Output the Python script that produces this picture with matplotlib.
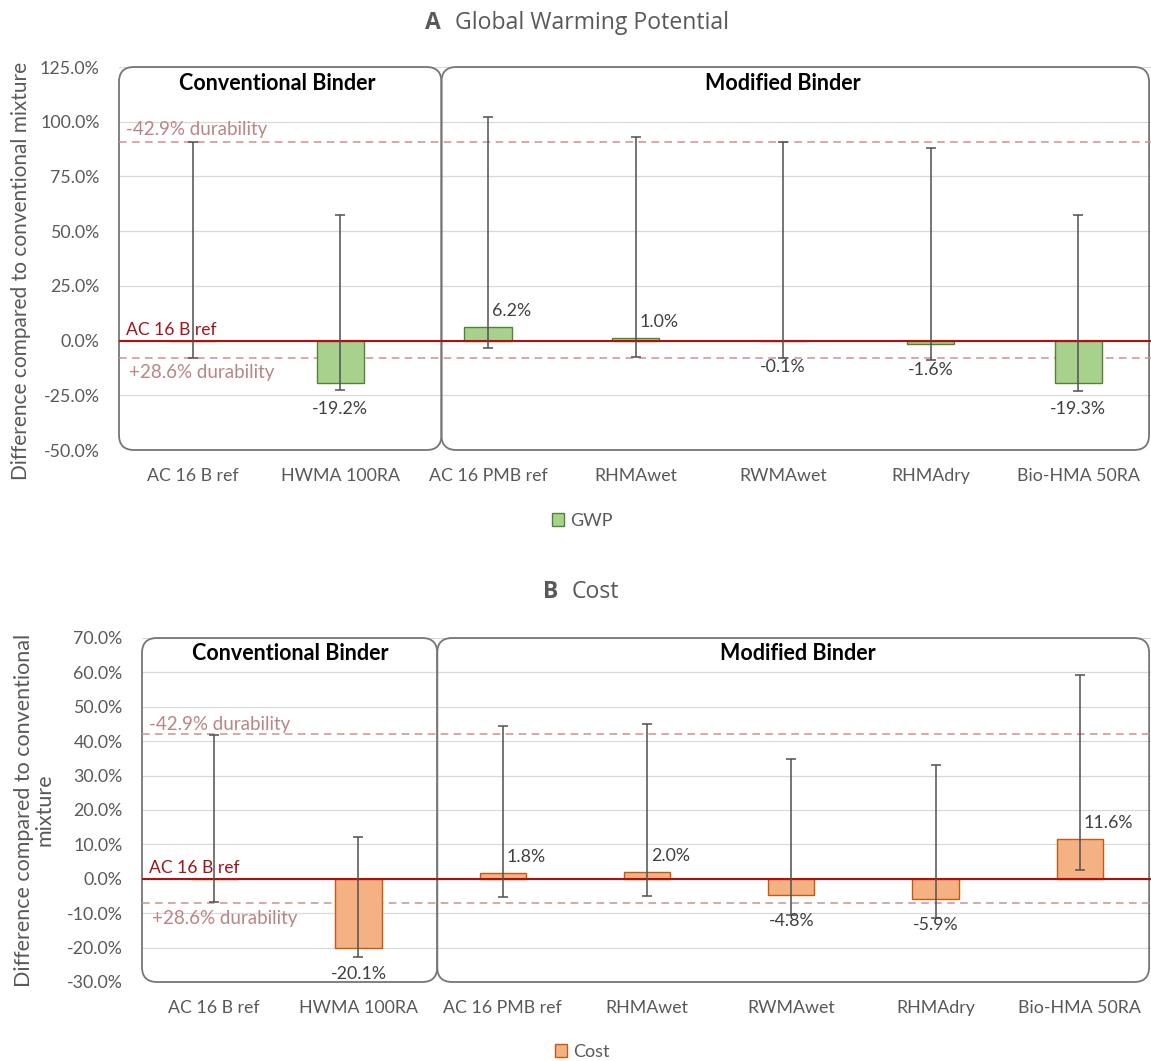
import matplotlib
matplotlib.use('Agg')
import matplotlib.pyplot as plt
from matplotlib.patches import FancyBboxPatch, Patch
from matplotlib.ticker import FuncFormatter

plt.rcParams['font.family'] = ['Lato', 'DejaVu Sans']

categories = ['AC 16 B ref', 'HWMA 100RA', 'AC 16 PMB ref', 'RHMAwet',
              'RWMAwet', 'RHMAdry', 'Bio-HMA 50RA']

# panel A - global warming potential (% difference to AC 16 B ref)
gwp = [0.0, -19.2, 6.2, 1.0, -0.1, -1.6, -19.3]
gwp_hi = [90.9, 57.4, 102.0, 92.9, 90.9, 88.1, 57.4]
gwp_lo = [-8.0, -22.6, -3.2, -7.4, -8.1, -8.9, -22.9]
gwp_dur = [90.9, -8.0]

# panel B - cost (% difference to AC 16 B ref)
cost = [0.0, -20.1, 1.8, 2.0, -4.8, -5.9, 11.6]
cost_hi = [41.9, 12.2, 44.5, 45.0, 34.9, 33.1, 59.2]
cost_lo = [-6.8, -22.7, -5.4, -5.1, -10.5, -11.5, 2.5]
cost_dur = [42.1, -7.1]

GRAY = '#595959'
TXT = '#404040'
DUR = '#d09090'
DUR_TXT = '#b98585'
RED = '#b40f0f'

W, H = 1151, 1061
dpi = 100
fig = plt.figure(figsize=(W / dpi, H / dpi), dpi=dpi)


def px_axes(x0, y0, x1, y1):
    # pixel box (top-left origin) -> figure fraction axes
    return fig.add_axes([x0 / W, 1 - y1 / H, (x1 - x0) / W, (y1 - y0) / H])


def rounded_box(ax, x0, x1, r_px=15):
    pos = ax.get_position()
    wpx = W * pos.width
    hpx = H * pos.height
    xl, yl = ax.get_xlim(), ax.get_ylim()
    xpp = (xl[1] - xl[0]) / wpx
    ypp = (yl[1] - yl[0]) / hpx
    p = FancyBboxPatch((x0, yl[0]), x1 - x0, yl[1] - yl[0],
                       boxstyle=f"round,pad=0,rounding_size={r_px * xpp}",
                       mutation_aspect=ypp / xpp, transform=ax.transData,
                       fill=False, ec='#767676', lw=1.3, clip_on=False, zorder=1)
    ax.add_patch(p)


def panel(ax, vals, hi, lo, dur, ylim, step, fc, ec, div, lab_x, label,
          dur_dy, legend_xy):
    x = list(range(len(categories)))
    ax.set_xlim(-0.5, len(categories) - 0.5)
    ax.set_ylim(*ylim)
    ax.set_yticks([ylim[0] + step * i for i in range(int(round((ylim[1] - ylim[0]) / step)) + 1)])
    ax.yaxis.set_major_formatter(FuncFormatter(lambda v, _: f'{v:.1f}%'))
    ax.set_xticks(x)
    ax.set_xticklabels(categories)
    ax.tick_params(length=0, labelsize=12.8, labelcolor=GRAY)
    ax.tick_params(axis='y', pad=14)
    ax.tick_params(axis='x', pad=13)
    for s in ax.spines.values():
        s.set_visible(False)
    ax.grid(axis='y', color='#d9d9d9', lw=0.9, zorder=0)
    ax.set_axisbelow(True)

    ax.bar(x, vals, width=0.32, color=fc, edgecolor=ec, lw=1.0, zorder=3)
    yerr = [[v - l for v, l in zip(vals, lo)], [h - v for v, h in zip(vals, hi)]]
    ax.errorbar(x, vals, yerr=yerr, fmt='none', ecolor='#505050', elinewidth=1.1,
                capsize=3.5, capthick=1.1, zorder=5)

    ax.axhline(0, color=RED, lw=1.5, zorder=4)
    for d in dur:
        ax.axhline(d, color=DUR, lw=1.1, ls=(0, (5, 3.5)), zorder=2)

    ax.annotate('AC 16 B ref', (-0.5, 0), xytext=(7, 11), textcoords='offset pixels',
                color='#a0151b', fontsize=12.6, va='center', ha='left', zorder=6)
    ax.annotate('-42.9% durability', (-0.5, dur[0]), xytext=(7, dur_dy[0]),
                textcoords='offset pixels', color=DUR_TXT, fontsize=13.5,
                va='center', ha='left', zorder=6)
    ax.annotate('+28.6% durability', (-0.5, dur[1]), xytext=(10, dur_dy[1]),
                textcoords='offset pixels', color=DUR_TXT, fontsize=13.5,
                va='center', ha='left', zorder=6)

    for xi, v in zip(x[1:], vals[1:]):
        if v >= 0:
            ax.annotate(f'{v:.1f}%', (xi, v), xytext=(4, 16), textcoords='offset pixels',
                        ha='left', va='center', fontsize=12.8, color=TXT, zorder=6)
        else:
            ax.annotate(f'{v:.1f}%', (xi, v), xytext=(0, -26), textcoords='offset pixels',
                        ha='center', va='center', fontsize=12.8, color=TXT, zorder=6)

    rounded_box(ax, -0.5, div)
    rounded_box(ax, div, len(categories) - 0.52)
    top = ax.get_ylim()[1]
    ax.annotate('Conventional Binder', (lab_x[0], top), xytext=(0, -16),
                textcoords='offset pixels', ha='center', va='center',
                fontsize=15.5, fontweight='bold', color='black')
    ax.annotate('Modified Binder', (lab_x[1], top), xytext=(0, -16),
                textcoords='offset pixels', ha='center', va='center',
                fontsize=15.5, fontweight='bold', color='black')

    leg = fig.legend(handles=[Patch(facecolor=fc, edgecolor=ec, lw=1.0, label=label)],
                     loc='center', bbox_to_anchor=legend_xy, frameon=False,
                     fontsize=13, handlelength=0.7, handleheight=0.7,
                     handletextpad=0.3, borderaxespad=0)
    for t in leg.get_texts():
        t.set_color(GRAY)


# panel A
axA = px_axes(119, 67, 1152, 450)
panel(axA, gwp, gwp_hi, gwp_lo, gwp_dur, (-50, 125), 25, '#a9d18e', '#548235',
      1.685, (0.57, 4.0), 'GWP', (12, -14), (582 / W, 1 - 521 / H))
axA.set_ylabel('Difference compared to conventional mixture', fontsize=15,
               color=GRAY)
axA.yaxis.set_label_coords((31 - 119) / 1033, 1 - (271 - 67) / 383)

# panel B
axB = px_axes(142, 638, 1152, 982)
panel(axB, cost, cost_hi, cost_lo, cost_dur, (-30, 70), 10, '#f4b183', '#c55a11',
      1.546, (0.53, 4.045), 'Cost', (9, -15), (582 / W, 1 - 1052 / H))
axB.set_ylabel('Difference compared to conventional\nmixture', fontsize=15.5,
               color=GRAY, linespacing=1.05)
axB.yaxis.set_label_coords((55 - 142) / 1010, 0.5)

# panel titles
fig.text(425 / W, 1 - 23 / H, 'A', fontsize=16.5, fontweight='bold', color=GRAY,
         ha='left', va='center', family='Open Sans')
fig.text(455 / W, 1 - 23 / H, 'Global Warming Potential', fontsize=16.6,
         color=GRAY, ha='left', va='center', family='Open Sans')
fig.text(543 / W, 1 - 592 / H, 'B', fontsize=16.5, fontweight='bold', color=GRAY,
         ha='left', va='center', family='Open Sans')
fig.text(572 / W, 1 - 592 / H, 'Cost', fontsize=16.6, color=GRAY,
         ha='left', va='center', family='Open Sans')

fig.savefig('out.png', dpi=dpi)
plt.close(fig)
